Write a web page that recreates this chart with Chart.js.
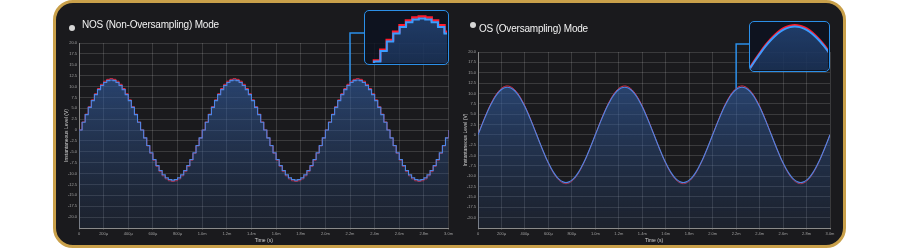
<!DOCTYPE html>
<html>
<head>
<meta charset="utf-8">
<script src="https://cdn.jsdelivr.net/npm/chart.js@4.4.1/dist/chart.umd.min.js"></script>
<style>
  html, body { margin: 0; padding: 0; background: #ffffff; width: 900px; height: 250px; overflow: hidden; }
  body { position: relative; font-family: "Liberation Sans", Arial, sans-serif; }
  #panel { position: absolute; left: 53px; top: 0px; width: 793px; height: 248px; box-sizing: border-box;
           border: 3.5px solid #c9a04a; border-radius: 20px; background: #1a1a1d; }
  canvas.main { position: absolute; }
  .title { position: absolute; color: #f2f2f2; font-size: 10px; letter-spacing: -0.2px; line-height: 12px; white-space: nowrap; }
  .dot { position: absolute; width: 6px; height: 6px; border-radius: 50%; background: #d6d6d6; }
  .inset { position: absolute; box-sizing: border-box; border: 1.5px solid #2b8fe8; border-radius: 5px;
           background: rgba(12, 18, 32, 0.82); overflow: hidden; }
  .inset canvas { display: block; }
</style>
</head>
<body>
<div id="panel"></div>

<canvas id="nosChart" class="main" width="390" height="240" style="left:64px;top:4px;width:390px;height:240px;"></canvas>
<canvas id="osChart" class="main" width="377" height="240" style="left:463px;top:4px;width:377px;height:240px;"></canvas>

<div class="dot" style="left:69px;top:25px;"></div>
<div class="title" style="left:82px;top:19px;">NOS (Non-Oversampling) Mode</div>
<div class="dot" style="left:470px;top:22px;"></div>
<div class="title" style="left:479px;top:23px;">OS (Oversampling) Mode</div>

<div class="inset" style="left:364px;top:10px;width:85px;height:55px;"><canvas id="nosInset" width="82" height="52"></canvas></div>
<div class="inset" style="left:749px;top:21px;width:81px;height:51px;"><canvas id="osInset" width="78" height="48"></canvas></div>

<script>
// ---- Data (1 kHz tone, 40 samples per period, 3 ms shown) ----
const sampleTimesMs = [
  0, 0.025, 0.05, 0.075, 0.1, 0.125, 0.15, 0.175, 0.2, 0.225,
  0.25, 0.275, 0.3, 0.325, 0.35, 0.375, 0.4, 0.425, 0.45, 0.475,
  0.5, 0.525, 0.55, 0.575, 0.6, 0.625, 0.65, 0.675, 0.7, 0.725,
  0.75, 0.775, 0.8, 0.825, 0.85, 0.875, 0.9, 0.925, 0.95, 0.975,
  1, 1.025, 1.05, 1.075, 1.1, 1.125, 1.15, 1.175, 1.2, 1.225,
  1.25, 1.275, 1.3, 1.325, 1.35, 1.375, 1.4, 1.425, 1.45, 1.475,
  1.5, 1.525, 1.55, 1.575, 1.6, 1.625, 1.65, 1.675, 1.7, 1.725,
  1.75, 1.775, 1.8, 1.825, 1.85, 1.875, 1.9, 1.925, 1.95, 1.975,
  2, 2.025, 2.05, 2.075, 2.1, 2.125, 2.15, 2.175, 2.2, 2.225,
  2.25, 2.275, 2.3, 2.325, 2.35, 2.375, 2.4, 2.425, 2.45, 2.475,
  2.5, 2.525, 2.55, 2.575, 2.6, 2.625, 2.65, 2.675, 2.7, 2.725,
  2.75, 2.775, 2.8, 2.825, 2.85, 2.875, 2.9, 2.925, 2.95, 2.975,
  3
];

// Reference (analog) signal, red
const referenceSignal = [
  0, 1.85, 3.65, 5.36, 6.94, 8.34, 9.55, 10.51, 11.22, 11.65,
  11.80, 11.65, 11.22, 10.51, 9.55, 8.34, 6.94, 5.36, 3.65, 1.85,
  0, -1.85, -3.65, -5.36, -6.94, -8.34, -9.55, -10.51, -11.22, -11.65,
  -11.80, -11.65, -11.22, -10.51, -9.55, -8.34, -6.94, -5.36, -3.65, -1.85,
  0, 1.85, 3.65, 5.36, 6.94, 8.34, 9.55, 10.51, 11.22, 11.65,
  11.80, 11.65, 11.22, 10.51, 9.55, 8.34, 6.94, 5.36, 3.65, 1.85,
  0, -1.85, -3.65, -5.36, -6.94, -8.34, -9.55, -10.51, -11.22, -11.65,
  -11.80, -11.65, -11.22, -10.51, -9.55, -8.34, -6.94, -5.36, -3.65, -1.85,
  0, 1.85, 3.65, 5.36, 6.94, 8.34, 9.55, 10.51, 11.22, 11.65,
  11.80, 11.65, 11.22, 10.51, 9.55, 8.34, 6.94, 5.36, 3.65, 1.85,
  0, -1.85, -3.65, -5.36, -6.94, -8.34, -9.55, -10.51, -11.22, -11.65,
  -11.80, -11.65, -11.22, -10.51, -9.55, -8.34, -6.94, -5.36, -3.65, -1.85,
  0
];

// DAC output samples, blue (held in NOS, interpolated in OS)
const dacOutput = [
  0, 1.80, 3.55, 5.22, 6.76, 8.13, 9.30, 10.25, 10.94, 11.36,
  11.50, 11.36, 10.94, 10.25, 9.30, 8.13, 6.76, 5.22, 3.55, 1.80,
  0, -1.80, -3.55, -5.22, -6.76, -8.13, -9.30, -10.25, -10.94, -11.36,
  -11.50, -11.36, -10.94, -10.25, -9.30, -8.13, -6.76, -5.22, -3.55, -1.80,
  0, 1.80, 3.55, 5.22, 6.76, 8.13, 9.30, 10.25, 10.94, 11.36,
  11.50, 11.36, 10.94, 10.25, 9.30, 8.13, 6.76, 5.22, 3.55, 1.80,
  0, -1.80, -3.55, -5.22, -6.76, -8.13, -9.30, -10.25, -10.94, -11.36,
  -11.50, -11.36, -10.94, -10.25, -9.30, -8.13, -6.76, -5.22, -3.55, -1.80,
  0, 1.80, 3.55, 5.22, 6.76, 8.13, 9.30, 10.25, 10.94, 11.36,
  11.50, 11.36, 10.94, 10.25, 9.30, 8.13, 6.76, 5.22, 3.55, 1.80,
  0, -1.80, -3.55, -5.22, -6.76, -8.13, -9.30, -10.25, -10.94, -11.36,
  -11.50, -11.36, -10.94, -10.25, -9.30, -8.13, -6.76, -5.22, -3.55, -1.80,
  0
];

const chartTitles = ["NOS (Non-Oversampling) Mode", "OS (Oversampling) Mode"];
const xAxisTitle = "Time (s)";
const yAxisTitle = "Instantaneous Level (V)";
const calloutTimeMs = 2.2;

// ---- helpers ----
const toPoints = (vals) => sampleTimesMs.map((t, i) => ({ x: t, y: vals[i] }));

function areaGradient(ctx, top, bottom) {
  const chart = ctx.chart;
  const ca = chart.chartArea;
  if (!ca) return top;
  const g = chart.ctx.createLinearGradient(0, ca.top, 0, ca.bottom);
  g.addColorStop(0, top);
  g.addColorStop(1, bottom);
  return g;
}

function xTickLabel(v) {
  const us = Math.round(v * 1000);
  if (us === 0) return '0';
  if (us < 1000) return us + 'µ';
  return (us / 1000).toFixed(1) + 'm';
}
function yTickLabel(v) {
  const r = Math.round(v * 10) / 10;
  if (r < -20.01) return '';
  if (r === 0) return '0';
  return r.toFixed(1);
}

const calloutPlugin = {
  id: 'callout',
  afterDatasetsDraw(chart, args, opts) {
    const meta = chart.getDatasetMeta(1);
    const idx = sampleTimesMs.indexOf(opts.time);
    const pt = meta.data[idx];
    if (!pt) return;
    const c = chart.ctx;
    c.save();
    c.strokeStyle = '#2b8fe8';
    c.lineWidth = 1.5;
    c.beginPath();
    c.moveTo(opts.boxX, opts.boxY);
    c.lineTo(pt.x, opts.boxY);
    c.lineTo(pt.x, pt.y - 1);
    c.stroke();
    c.restore();
  }
};

function mainChart(id, stepped, yPad, rightPad, callout) {
  return new Chart(document.getElementById(id), {
    type: 'line',
    data: {
      datasets: [
        { label: 'Reference', data: toPoints(referenceSignal), stepped: stepped,
          cubicInterpolationMode: 'monotone', tension: 0.4,
          borderColor: '#de2f4a', borderWidth: 1, pointRadius: 0, fill: false, order: 2 },
        { label: 'Output', data: toPoints(dacOutput), stepped: stepped,
          cubicInterpolationMode: 'monotone', tension: 0.4,
          borderColor: '#4f86e4', borderWidth: 1.1, pointRadius: 0, order: 1,
          fill: 'start',
          backgroundColor: (ctx) => areaGradient(ctx, 'rgba(52,98,170,0.72)', 'rgba(40,70,120,0.18)') }
      ]
    },
    options: {
      responsive: false, animation: false, events: [],
      layout: { padding: { top: yPad, right: rightPad, left: 0, bottom: 0 } },
      plugins: { legend: { display: false }, tooltip: { enabled: false }, callout: callout },
      scales: {
        x: {
          type: 'linear', min: 0, max: 3,
          afterFit: (s) => { s.height = 16; },
          ticks: { stepSize: 0.2, autoSkip: false, maxRotation: 0, padding: 1,
                   color: '#a0a0a0', font: { size: 4, family: 'Liberation Sans' }, callback: xTickLabel },
          grid: { color: 'rgba(255,255,255,0.14)', lineWidth: 1, tickLength: 2 },
          border: { color: '#8a8a8a', width: 1 },
          title: { display: true, text: xAxisTitle, color: '#cfcfcf', font: { size: 5, family: 'Liberation Sans' },
                   padding: { top: 2, bottom: 0 } }
        },
        y: {
          min: -22.5, max: 20,
          afterFit: (s) => { s.width = 15; },
          ticks: { stepSize: 2.5, autoSkip: false, padding: 2, color: '#a0a0a0',
                   font: { size: 4, family: 'Liberation Sans' }, callback: yTickLabel },
          grid: { color: 'rgba(255,255,255,0.14)', lineWidth: 1, tickLength: 0 },
          border: { color: '#8a8a8a', width: 1 },
          title: { display: true, text: yAxisTitle, color: '#cfcfcf', font: { size: 5, family: 'Liberation Sans' },
                   padding: { top: 0, bottom: 2 } }
        }
      }
    },
    plugins: [calloutPlugin]
  });
}

function insetChart(id, stepped, xMin, xMax, yMin, yMax) {
  return new Chart(document.getElementById(id), {
    type: 'line',
    data: {
      datasets: [
        { data: toPoints(referenceSignal), stepped: stepped, cubicInterpolationMode: 'monotone', tension: 0.4,
          borderColor: '#ff1c2e', borderWidth: 2.6, pointRadius: 0, fill: false, order: 2 },
        { data: toPoints(dacOutput), stepped: stepped, cubicInterpolationMode: 'monotone', tension: 0.4,
          borderColor: '#3a9cff', borderWidth: 2, pointRadius: 0, order: 1, fill: 'start',
          backgroundColor: (ctx) => areaGradient(ctx, 'rgba(48,96,168,0.55)', 'rgba(48,96,168,0.35)') }
      ]
    },
    options: {
      responsive: false, animation: false, events: [],
      layout: { padding: 0 },
      plugins: { legend: { display: false }, tooltip: { enabled: false } },
      scales: {
        x: { type: 'linear', display: false, min: xMin, max: xMax },
        y: { display: false, min: yMin, max: yMax }
      }
    }
  });
}

mainChart('nosChart', true, 39, 5, { time: calloutTimeMs, boxX: 300, boxY: 29 });
mainChart('osChart', false, 48, 10, { time: calloutTimeMs, boxX: 286, boxY: 40 });
insetChart('nosInset', true, 2.04, 2.36, 5.0, 12.6);
insetChart('osInset', false, 2.02, 2.42, 1.0, 12.6);
</script>
</body>
</html>
